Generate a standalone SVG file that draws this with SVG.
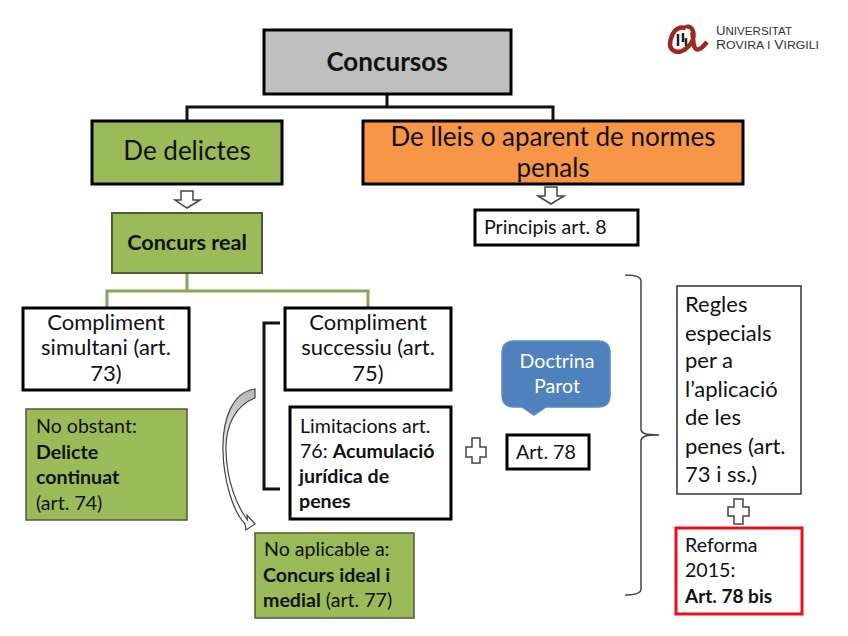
<svg xmlns="http://www.w3.org/2000/svg" width="848" height="636" viewBox="0 0 848 636">
<style>
text{font-family:Lato,"Liberation Sans",sans-serif;fill:#111}
.b{font-weight:700}
.box{stroke:#000;stroke-width:3;fill:#fff}
.g{fill:#9bbb59}
.line{fill:none;stroke:#111;stroke-width:3}
.gl{fill:none;stroke:#8aa556;stroke-width:3}
.out{fill:#fff;stroke:#444;stroke-width:1.5}
.m{text-anchor:middle}
.t22{font-size:22px}
.t19{font-size:19.6px}
.h{font-size:26px}
.logo{fill:#333;font-family:"Liberation Sans",sans-serif;font-size:12.500px}
.sc{font-size:11px}
</style>
<defs><linearGradient id="arc" gradientUnits="userSpaceOnUse" x1="0" y1="389" x2="0" y2="460"><stop offset="0" stop-color="#b5b5b5"/><stop offset="1" stop-color="#fff"/></linearGradient></defs>
<rect width="848" height="636" fill="#fff"/>
<g id="connectors">
<path class="line" d="M387 94V107M187 121V107H553V121"/>
<path class="gl" d="M187 273V291M107 308V291H368V308"/>
<path class="out" d="M181 191H193V200H200L187 208L175 200H181Z"/>
<path class="out" d="M545 187H557V196H564L551 204L538 196H545Z"/>
<path class="line" d="M280 323H264V489H280"/>
<path d="M255 389C232 392 222 420 223 452C224 480 232 510 245 524L246 530L255 524L247 515L247.500 520C236 505 227 480 226 452C225 425 236 405 255 398Z" fill="url(#arc)" stroke="#444" stroke-width="1.200"/>
<path d="M625 275C634 275 641 276 641 281V429C641 433 644 435 659 435C644 435 641 437 641 441V589C641 594 634 595 625 595" fill="none" stroke="#444" stroke-width="1.500"/>
</g>
<g id="concursos"><rect x="264" y="30" width="247" height="64" fill="#bfbfbf" stroke="#000" stroke-width="3"/><text class="b m h" x="387" y="71">Concursos</text></g>
<g id="de-delictes"><rect class="g" x="92" y="121" width="190" height="63" stroke="#000" stroke-width="3"/><text class="m h" x="187" y="160">De delictes</text></g>
<g id="de-lleis"><rect x="363" y="121" width="380" height="63" fill="#f79646" stroke="#000" stroke-width="3"/><text class="m h" x="553" y="146">De lleis o aparent de normes</text><text class="m h" x="553" y="177">penals</text></g>
<g id="concurs-real"><rect class="g" x="112" y="213" width="150" height="60" stroke="#4f5b36" stroke-width="2"/><text class="b m" x="187" y="250" font-size="21.600">Concurs real</text></g>
<g id="principis"><rect class="box" x="475" y="210" width="163" height="35"/><text class="t19" x="484" y="234">Principis art. 8</text></g>
<g id="simultani"><rect class="box" x="23" y="308" width="166" height="82"/><text class="m t22" x="106" y="330">Compliment</text><text class="m t22" x="106" y="355">simultani (art.</text><text class="m t22" x="106" y="381">73)</text></g>
<g id="successiu"><rect class="box" x="285" y="308" width="166" height="82"/><text class="m t22" x="368" y="330">Compliment</text><text class="m t22" x="368" y="355">successiu (art.</text><text class="m t22" x="368" y="381">75)</text></g>
<g id="limitacions"><rect class="box" x="290" y="407" width="161" height="112"/><text class="t19" x="300" y="433">Limitacions art.</text><text class="t19" x="300" y="458">76: <tspan class="b">Acumulació</tspan></text><text class="t19 b" x="299" y="483">jurídica de</text><text class="t19 b" x="299" y="508">penes</text></g>
<g id="no-obstant"><rect class="g" x="26" y="409" width="161" height="111" stroke="#4f5b36" stroke-width="1.500"/><text class="t19" x="36" y="433">No obstant:</text><text class="t19 b" x="36" y="459">Delicte</text><text class="t19 b" x="36" y="484">continuat</text><text class="t19" x="36" y="510">(art. 74)</text></g>
<g id="no-aplicable"><rect class="g" x="255" y="533" width="159" height="85" stroke="#4f5b36" stroke-width="1.500"/><text class="t19" x="264" y="556">No aplicable a:</text><text class="t19 b" x="263" y="582">Concurs ideal i</text><text class="t19" x="263" y="607"><tspan class="b">medial</tspan> (art. 77)</text></g>
<g id="plus1"><path class="out" d="M472 438H480V447H486V457H480V463H472V457H466V447H472Z"/></g>
<g id="art78"><rect class="box" x="507" y="435" width="82" height="34"/><text class="t19" x="516" y="459">Art. 78</text></g>
<g id="doctrina"><path d="M514 341H598Q610 341 610 353V395Q610 407 598 407H546L534 415L522 407H514Q502 407 502 395V353Q502 341 514 341Z" fill="#4f81bd" stroke="#5b8ac4" stroke-width="1.500"/><text class="m t19" x="557" y="368" style="fill:#fff">Doctrina</text><text class="m t19" x="557" y="393" style="fill:#fff">Parot</text></g>
<g id="regles"><rect x="677" y="286" width="124" height="208" fill="#fff" stroke="#333" stroke-width="1.500"/><text class="t22" x="685" y="312">Regles</text><text class="t22" x="685" y="341">especials</text><text class="t22" x="685" y="368">per a</text><text class="t22" x="685" y="397">l’aplicació</text><text class="t22" x="685" y="425">de les</text><text class="t22" x="685" y="454">penes (art.</text><text class="t22" x="685" y="482">73 i ss.)</text></g>
<g id="plus2"><path class="out" d="M734 499H743V507H749V516H743V524H734V516H728V507H734Z"/></g>
<g id="reforma"><rect x="676" y="528" width="126" height="86" fill="#fff" stroke="#e8111a" stroke-width="3"/><text class="t19" x="685" y="552">Reforma</text><text class="t19" x="685" y="577">2015:</text><text class="b" font-size="19" x="685" y="603">Art. 78 bis</text></g>
<g id="logo"><path d="M686 28C676 25 671 34 670 44C670 51 678 54 684 50C692 45 696 36 692 29C690 26 687 26 686 28M692 32C694 38 692 46 696 49C699 51 703 47 707 42" fill="none" stroke="#9c2a20" stroke-width="4.500"/><path d="M678 34V46M683 33V42M686 38V46" stroke="#222" stroke-width="2.500" fill="none"/><text class="logo" x="716" y="35" textLength="76" lengthAdjust="spacingAndGlyphs">U<tspan class="sc">NIVERSITAT</tspan></text><text class="logo" x="716" y="49" textLength="103" lengthAdjust="spacingAndGlyphs">R<tspan class="sc">OVIRA I</tspan> V<tspan class="sc">IRGILI</tspan></text></g>
</svg>
